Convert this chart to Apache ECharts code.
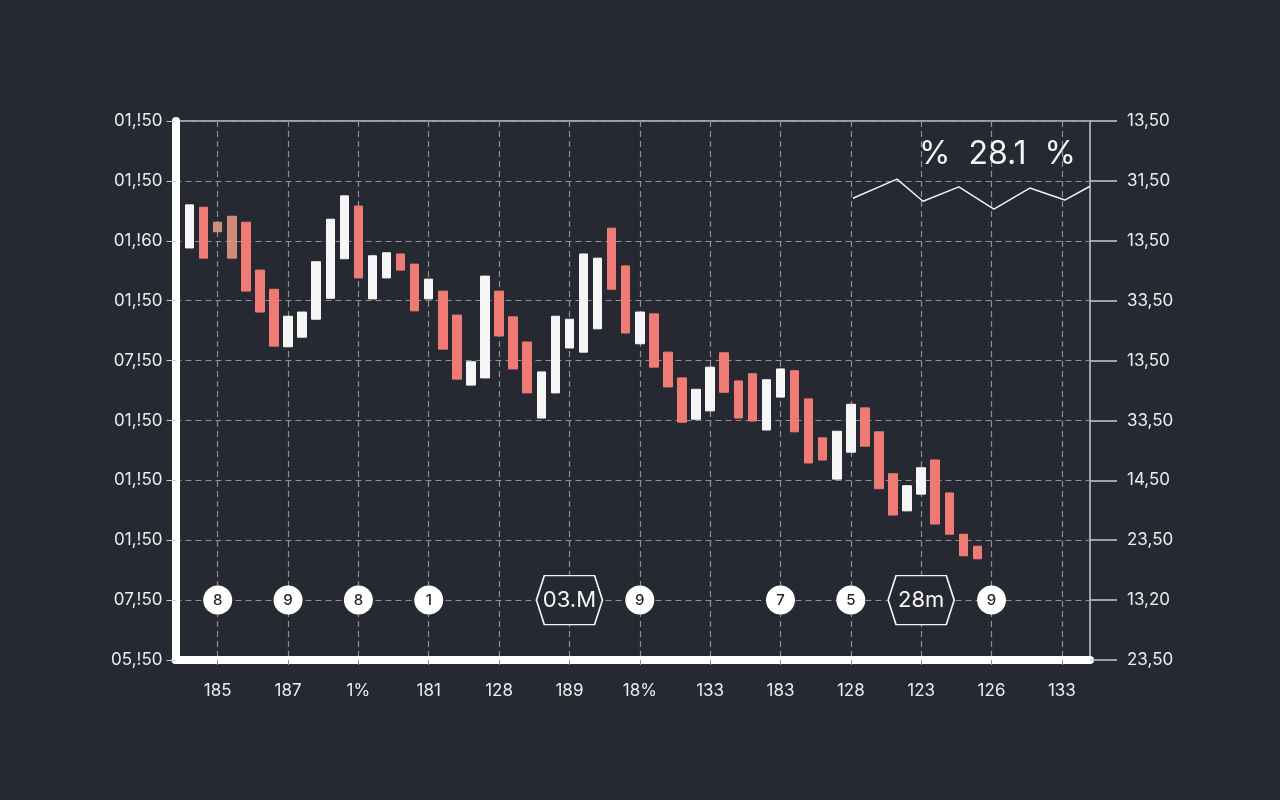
<!DOCTYPE html>
<html>
<head>
<meta charset="utf-8">
<title>Candles</title>
<script src="https://cdn.jsdelivr.net/npm/echarts@6/dist/echarts.min.js"></script>
<style>html,body{margin:0;padding:0;background:#262931;}</style>
</head>
<body>
<div id="main" style="width:1280px;height:800px"></div>
<script>
var leftLabels = ['05,!50', '07,!50', '01,!50', '01,!50', '01,!50', '07,!50', '01,!50', '01,!60', '01,!50', '01,!50'];
var rightLabels = ['23,50', '13,20', '23,50', '14,50', '33,50', '13,50', '33,50', '13,50', '31,50', '13,50'];
var tickLabels = ['185', '187', '1%', '181', '128', '189', '18%', '133', '183', '128', '123', '126', '133'];

// candle bodies, one per slot starting at slot 1
var opens = [6.88, 7.56, 7.31, 7.41, 7.31, 6.51, 6.19, 5.23, 5.39, 5.69,
             6.04, 6.70, 7.58, 6.03, 6.38, 6.78, 6.61, 6.03, 6.16, 5.76,
             4.59, 4.71, 6.16, 5.73, 5.31, 4.04, 4.46, 5.21, 5.14, 5.53,
             7.21, 6.58, 5.28, 5.78, 5.14, 4.71, 4.02, 4.16, 5.13, 4.66,
             4.78, 3.84, 4.39, 4.83, 4.36, 3.71, 3.02, 3.47, 4.21, 3.81,
             3.11, 2.49, 2.77, 3.34, 2.79, 2.10, 1.90];
var closes = [7.60, 6.71, 7.15, 6.71, 6.16, 5.81, 5.24, 5.74, 5.81, 6.65,
              7.36, 7.75, 6.38, 6.75, 6.80, 6.51, 5.83, 6.36, 5.19, 4.69,
              4.98, 6.41, 5.41, 4.86, 4.46, 4.81, 5.74, 5.69, 6.78, 6.71,
              6.19, 5.46, 5.81, 4.89, 4.56, 3.97, 4.52, 4.89, 4.47, 4.04,
              3.99, 4.68, 4.86, 3.81, 3.29, 3.34, 3.82, 4.27, 3.57, 2.86,
              2.42, 2.91, 3.21, 2.27, 2.10, 1.74, 1.69];
var faded = [2, 3];

// small zigzag in the upper right corner
var lineX = [48.15, 51.28, 53.13, 55.68, 58.17, 60.72, 63.21, 65];
var lineY = [7.71, 8.03, 7.66, 7.90, 7.53, 7.88, 7.68, 7.91];

var dotAt = [3, 8, 13, 18, 33, 43, 48, 58];
var dotText = ['8', '9', '8', '1', '9', '7', '5', '9'];
var hexAt = [28, 53];
var hexText = ['03.M', '28m'];
var headline = '%  28.1  %';

var bg = '#262931';
var gridGray = '#8d9096';
var slots = 66;

var categories = [];
for (var c = 0; c < slots; c++) {
    categories.push(c % 5 === 3 ? tickLabels[(c - 3) / 5] : '');
}
function onTick(index) { return index % 5 === 3; }

var candles = opens.map(function (o, i) {
    var cl = closes[i];
    var item = { value: [i + 1, o, cl, Math.min(o, cl), Math.max(o, cl)] };
    if (faded.indexOf(i) >= 0) {
        item.itemStyle = { color0: '#e0977f', borderColor0: '#e0977f', opacity: 0.9 };
    }
    return item;
});

var myChart = echarts.init(document.getElementById('main'));

option = {
    backgroundColor: bg,
    textStyle: { fontFamily: 'Inter, "Liberation Sans", sans-serif' },
    title: {
        text: headline,
        left: 914,
        top: 133,
        textStyle: { color: '#f4f4f4', fontSize: 32, fontWeight: 'normal' }
    },
    grid: {
        left: 175.5,
        right: 190,
        top: 121,
        bottom: 140,
        show: true,
        borderColor: '#c8c9cc',
        borderWidth: 1.5
    },
    xAxis: [
        {
            type: 'category',
            data: categories,
            boundaryGap: false,
            axisLine: { show: true, lineStyle: { color: '#ffffff', width: 8 } },
            axisTick: {
                show: true, interval: onTick, length: 9,
                lineStyle: { color: gridGray, type: [5, 4] }
            },
            axisLabel: {
                interval: onTick, color: '#ececec', fontSize: 17, margin: 22
            },
            splitLine: {
                show: true, interval: onTick,
                lineStyle: { color: gridGray, width: 1.2, type: [6, 4] }
            }
        },
        { type: 'value', min: 0, max: slots - 1, show: false }
    ],
    yAxis: [
        {
            type: 'value', min: 0, max: 9, interval: 1,
            axisLine: { show: true, lineStyle: { color: '#ffffff', width: 8 } },
            axisTick: { show: true, length: 9, lineStyle: { color: '#c8c9cc' } },
            axisLabel: {
                color: '#ececec', fontSize: 17, margin: 13,
                formatter: function (v) { return leftLabels[Math.round(v)]; }
            },
            splitLine: { show: true, lineStyle: { color: gridGray, width: 1.2, type: [6, 4] } }
        },
        {
            type: 'value', min: 0, max: 9, interval: 1, position: 'right',
            axisLine: { show: false },
            axisTick: { show: true, length: 27, lineStyle: { color: '#c8c9cc', width: 1.5 } },
            axisLabel: {
                color: '#ececec', fontSize: 17, margin: 37,
                formatter: function (v) { return rightLabels[Math.round(v)]; }
            },
            splitLine: { show: false }
        }
    ],
    series: [
        {
            type: 'candlestick',
            xAxisIndex: 0,
            yAxisIndex: 0,
            barWidth: 9,
            encode: { x: 0, y: [1, 2, 3, 4] },
            itemStyle: {
                color: '#f6f6f6', borderColor: '#f6f6f6',
                color0: '#ef7b74', borderColor0: '#ef7b74', borderWidth: 1
            },
            data: candles,
            z: 3
        },
        {
            type: 'line',
            xAxisIndex: 1,
            yAxisIndex: 0,
            symbol: 'none',
            lineStyle: { color: '#f2f2f2', width: 1.5 },
            data: lineX.map(function (x, i) { return [x, lineY[i]]; }),
            z: 4
        },
        {
            type: 'scatter',
            xAxisIndex: 0,
            yAxisIndex: 0,
            symbol: 'circle',
            symbolSize: 29,
            itemStyle: { color: '#ffffff', opacity: 1 },
            label: {
                show: true, position: 'inside', formatter: '{b}',
                color: '#26282e', fontSize: 15, fontWeight: 500
            },
            data: dotAt.map(function (c, i) { return { name: dotText[i], value: [c, 1] }; }),
            z: 5
        },
        {
            type: 'scatter',
            xAxisIndex: 0,
            yAxisIndex: 0,
            symbol: 'path://M8,0 L59,0 L67,24.5 L59,49 L8,49 L0,24.5 Z',
            symbolSize: [66, 49],
            itemStyle: { color: bg, borderColor: '#f2f2f2', borderWidth: 1.5, opacity: 1 },
            label: {
                show: true, position: 'inside', formatter: '{b}',
                color: '#f6f6f6', fontSize: 22
            },
            data: hexAt.map(function (c, i) { return { name: hexText[i], value: [c, 1] }; }),
            z: 5
        }
    ]
};

myChart.setOption(option);
</script>
</body>
</html>
